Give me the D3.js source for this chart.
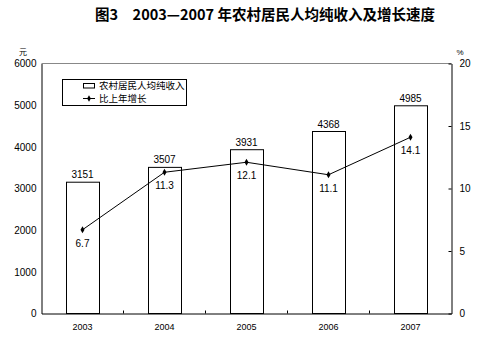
<!DOCTYPE html>
<html><head><meta charset="utf-8">
<script src="https://cdn.jsdelivr.net/npm/d3@7"></script>
<style>body{margin:0;background:#fff}svg{display:block}</style>
</head><body>
<svg id="c" width="482" height="340"></svg>
<script>
const years = ["2003","2004","2005","2006","2007"];
const income = [3151,3507,3931,4368,4985];
const growth = [6.7,11.3,12.1,11.1,14.1];
const leftTicks = [0,1000,2000,3000,4000,5000,6000];
const rightTicks = [0,5,10,15,20];
const titleText = "图3　2003—2007 年农村居民人均纯收入及增长速度";
const legendLabels = ["农村居民人均纯收入","比上年增长"];

const svg = d3.select("#c");
const L = 41.5, R = 451.5, T = 63.5, B = 313.5;
const x = d3.scaleBand().domain(years).range([L, R]).paddingInner(0.6).paddingOuter(0.3);
const xb = d3.scaleBand().domain(years).range([L, R]);
const yL = d3.scaleLinear().domain([0,6000]).range([B, T]);
const yR = d3.scaleLinear().domain([0,20]).range([B, T]);
const numFont = "Arial, 'Liberation Sans', sans-serif";
const cjk = "'Noto Sans CJK SC', sans-serif";

svg.append("text").attr("x",265).attr("y",20).attr("text-anchor","middle")
  .attr("font-family",cjk).attr("font-weight",700).attr("font-size",14.5).text(titleText);
svg.append("text").attr("x",23).attr("y",55).attr("text-anchor","middle")
  .attr("font-family",cjk).attr("font-size",8).text("元");
svg.append("text").attr("x",460).attr("y",55).attr("text-anchor","middle")
  .attr("font-family",numFont).attr("font-size",8).text("%");

// top gray line
svg.append("line").attr("x1",L).attr("x2",R).attr("y1",T).attr("y2",T).attr("stroke","#888");

// left axis
const gL = svg.append("g").attr("transform",`translate(${L},0)`)
  .call(d3.axisLeft(yL).tickValues(leftTicks).tickSize(0).tickPadding(5).tickFormat(d3.format("d")));
gL.select(".domain").attr("stroke","#000");
gL.selectAll("text").attr("font-family",numFont).attr("font-size",10);

// right axis
const gR = svg.append("g").attr("transform",`translate(${R},0)`)
  .call(d3.axisRight(yR).tickValues(rightTicks).tickSizeInner(-3).tickSizeOuter(0).tickPadding(8));
gR.select(".domain").attr("stroke","#000");
gR.selectAll("line").attr("stroke","#000");
gR.selectAll("text").attr("font-family",numFont).attr("font-size",10);

// bars
svg.append("g").selectAll("rect").data(years).join("rect")
  .attr("x",d=>Math.round(x(d))+0.5).attr("width",Math.round(x.bandwidth()))
  .attr("y",(d,i)=>yL(income[i])).attr("height",(d,i)=>B-yL(income[i]))
  .attr("fill","#fff").attr("stroke","#000").attr("stroke-width",1);

// bottom axis
const gB = svg.append("g").attr("transform",`translate(0,${B})`)
  .call(d3.axisBottom(xb).tickSize(0).tickPadding(10));
gB.select(".domain").attr("stroke","#000");
gB.selectAll("text").attr("font-family",numFont).attr("font-size",9);
// category separators (small inward ticks)
svg.append("g").selectAll("line").data(years.slice(1)).join("line")
  .attr("x1",d=>xb(d)).attr("x2",d=>xb(d)).attr("y1",B).attr("y2",B-3).attr("stroke","#000");

// bar labels
svg.append("g").selectAll("text").data(years).join("text")
  .attr("x",d=>xb(d)+xb.bandwidth()/2).attr("y",(d,i)=>yL(income[i])-4)
  .attr("text-anchor","middle").attr("font-family",numFont).attr("font-size",10)
  .text((d,i)=>income[i]);

// line
const cx = d=>xb(d)+xb.bandwidth()/2;
svg.append("path").datum(years)
  .attr("d",d3.line().x(cx).y((d,i)=>yR(growth[i])))
  .attr("fill","none").attr("stroke","#000").attr("stroke-width",1);
svg.append("g").selectAll("path").data(years).join("path")
  .attr("transform",(d,i)=>`translate(${cx(d)},${yR(growth[i])})`)
  .attr("d",d3.symbol(d3.symbolDiamond,14)).attr("fill","#000");
svg.append("g").selectAll("text").data(years).join("text")
  .attr("x",cx).attr("y",(d,i)=>yR(growth[i])+17)
  .attr("text-anchor","middle").attr("font-family",numFont).attr("font-size",10)
  .text((d,i)=>growth[i].toFixed(1));

// legend
const lg = svg.append("g");
lg.append("rect").attr("x",62.5).attr("y",79.5).attr("width",124).attr("height",26)
  .attr("fill","#fff").attr("stroke","#000");
lg.append("rect").attr("x",83.5).attr("y",83.5).attr("width",11).attr("height",4.5)
  .attr("fill","#fff").attr("stroke","#000");
lg.append("line").attr("x1",83).attr("x2",95).attr("y1",98.5).attr("y2",98.5).attr("stroke","#000");
lg.append("path").attr("transform","translate(89,98.5)").attr("d",d3.symbol(d3.symbolDiamond,12)).attr("fill","#000");
lg.selectAll("text.l").data(legendLabels).join("text").attr("class","l")
  .attr("x",99).attr("y",(d,i)=>89+i*12.5)
  .attr("font-family",cjk).attr("font-size",9.5).text(d=>d);
</script>
</body></html>
